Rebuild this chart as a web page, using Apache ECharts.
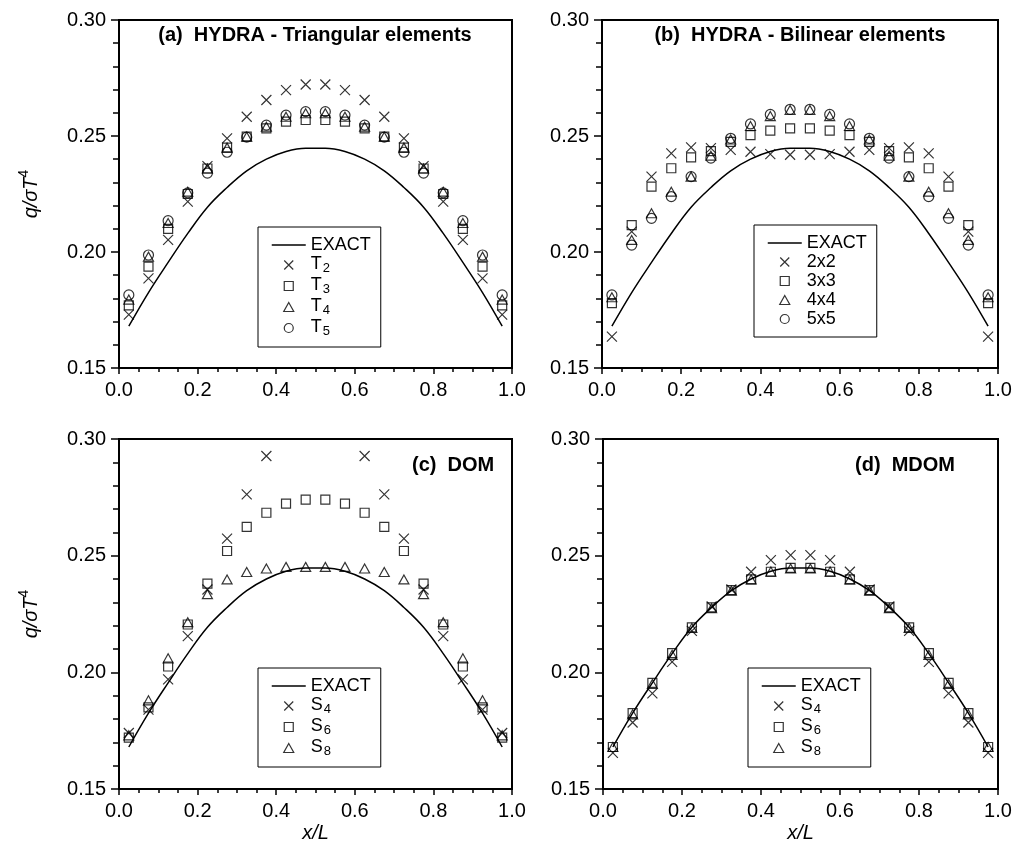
<!DOCTYPE html>
<html>
<head>
<meta charset="utf-8">
<script src="https://cdn.jsdelivr.net/npm/echarts@6/dist/echarts.min.js"></script>
<style>
html, body { margin: 0; padding: 0; background: #fff; }
#main { width: 1014px; height: 850px; }
</style>
</head>
<body>
<div id="main"></div>
<script>
// x/L positions of the 20 cell centres
var xs = [0.025, 0.075, 0.125, 0.175, 0.225, 0.275, 0.325, 0.375, 0.425, 0.475,
          0.525, 0.575, 0.625, 0.675, 0.725, 0.775, 0.825, 0.875, 0.925, 0.975];
var xTicks = [0.0, 0.2, 0.4, 0.6, 0.8, 1.0];
var yTicks = [0.15, 0.20, 0.25, 0.30];

var exact = [0.168, 0.1825, 0.1955, 0.208, 0.2193, 0.2278, 0.235, 0.240, 0.2433, 0.2447,
             0.2447, 0.2433, 0.240, 0.235, 0.2278, 0.2193, 0.208, 0.1955, 0.1825, 0.168];

// (a) HYDRA - triangular elements
var t2 = [0.173, 0.1886, 0.2052, 0.2217, 0.237, 0.249, 0.2583, 0.2655, 0.2698, 0.2722,
          0.2722, 0.2698, 0.2655, 0.2583, 0.249, 0.237, 0.2217, 0.2052, 0.1886, 0.173];
var t3 = [0.177, 0.1937, 0.210, 0.225, 0.236, 0.245, 0.2497, 0.2533, 0.2562, 0.2569,
          0.2569, 0.2562, 0.2533, 0.2497, 0.245, 0.236, 0.225, 0.210, 0.1937, 0.177];
var t4 = [0.1795, 0.198, 0.2125, 0.226, 0.236, 0.245, 0.2497, 0.254, 0.2583, 0.2598,
          0.2598, 0.2583, 0.254, 0.2497, 0.245, 0.236, 0.226, 0.2125, 0.198, 0.1795];
var t5 = [0.1815, 0.1987, 0.2135, 0.2255, 0.234, 0.243, 0.2495, 0.2547, 0.259, 0.2605,
          0.2605, 0.259, 0.2547, 0.2495, 0.243, 0.234, 0.2255, 0.2135, 0.1987, 0.1815];

// (b) HYDRA - bilinear elements
var b2 = [0.1635, 0.2088, 0.2325, 0.2425, 0.2451, 0.2448, 0.244, 0.2432, 0.2422, 0.2419,
          0.2419, 0.2422, 0.2432, 0.244, 0.2448, 0.2451, 0.2425, 0.2325, 0.2088, 0.1635];
var b3 = [0.178, 0.2116, 0.2282, 0.2361, 0.2408, 0.2435, 0.2475, 0.2504, 0.2523, 0.2533,
          0.2533, 0.2523, 0.2504, 0.2475, 0.2435, 0.2408, 0.2361, 0.2282, 0.2116, 0.178];
var b4 = [0.1805, 0.2052, 0.2167, 0.226, 0.2325, 0.2415, 0.2485, 0.2543, 0.2586, 0.2612,
          0.2612, 0.2586, 0.2543, 0.2485, 0.2415, 0.2325, 0.226, 0.2167, 0.2052, 0.1805];
var b5 = [0.1815, 0.203, 0.2145, 0.2239, 0.2325, 0.2405, 0.249, 0.2552, 0.2593, 0.2615,
          0.2615, 0.2593, 0.2552, 0.249, 0.2405, 0.2325, 0.2239, 0.2145, 0.203, 0.1815];

// (c) DOM  (middle S4 points lie above the plot)
var c4 = [0.174, 0.184, 0.197, 0.2155, 0.2355, 0.2573, 0.2763, 0.2927, null, null,
          null, null, 0.2927, 0.2763, 0.2573, 0.2355, 0.2155, 0.197, 0.184, 0.174];
var c6 = [0.172, 0.185, 0.2025, 0.2205, 0.238, 0.252, 0.2623, 0.2684, 0.2723, 0.274,
          0.274, 0.2723, 0.2684, 0.2623, 0.252, 0.238, 0.2205, 0.2025, 0.185, 0.172];
var c8 = [0.173, 0.188, 0.206, 0.2215, 0.2335, 0.2398, 0.243, 0.2445, 0.2452, 0.2452,
          0.2452, 0.2452, 0.2445, 0.243, 0.2398, 0.2335, 0.2215, 0.206, 0.188, 0.173];

// (d) MDOM
var d4 = [0.1655, 0.1785, 0.191, 0.2045, 0.2178, 0.2282, 0.2355, 0.2431, 0.2481, 0.2502,
          0.2502, 0.2481, 0.2431, 0.2355, 0.2282, 0.2178, 0.2045, 0.191, 0.1785, 0.1655];
var d6 = [0.168, 0.1825, 0.1955, 0.2082, 0.2193, 0.2278, 0.2352, 0.2398, 0.2431, 0.2448,
          0.2448, 0.2431, 0.2398, 0.2352, 0.2278, 0.2193, 0.2082, 0.1955, 0.1825, 0.168];
var d8 = [0.168, 0.182, 0.195, 0.2075, 0.219, 0.2275, 0.235, 0.2398, 0.2432, 0.2445,
          0.2445, 0.2432, 0.2398, 0.235, 0.2275, 0.219, 0.2075, 0.195, 0.182, 0.168];

var FONT = '"Liberation Sans", Arial, sans-serif';
// path symbols so the legend keeps their aspect ratio
var marks = {
  cross: { symbol: 'path://M0,0L10,10M10,0L0,10', size: 10 },
  square: { symbol: 'path://M0,0L10,0L10,10L0,10Z', size: 9 },
  tri: { symbol: 'path://M5,0L10,9L0,9Z', size: 10 },
  circle: { symbol: 'circle', size: 10 }
};

function pts(vals) {
  var out = [];
  vals.forEach(function (v, i) { if (v != null) out.push([xs[i], v]); });
  return out;
}

var grids = [
  { left: 119, top: 20, width: 393, height: 348 },
  { left: 602, top: 20, width: 396, height: 348 },
  { left: 119, top: 439, width: 393, height: 350 },
  { left: 603, top: 439, width: 395, height: 350 }
];

function xAxis(i, named) {
  return {
    type: 'value', gridIndex: i, min: xTicks[0], max: xTicks[xTicks.length - 1], interval: 0.2,
    name: named ? 'x/L' : '', nameLocation: 'middle', nameGap: 34, nameMoveOverlap: false,
    nameTextStyle: { color: '#000', fontSize: 20, fontStyle: 'italic', fontFamily: FONT },
    axisLine: { show: true, lineStyle: { color: '#000', width: 2 } },
    axisTick: { show: true, inside: false, length: 6, lineStyle: { color: '#000', width: 1.5 } },
    minorTick: { show: true, splitNumber: 4, length: 4, lineStyle: { color: '#000', width: 1.5 } },
    splitLine: { show: false },
    axisLabel: { color: '#000', fontSize: 20, fontFamily: FONT, margin: 12,
      showMinLabel: true, showMaxLabel: true,
      formatter: function (v) { return v.toFixed(1); } }
  };
}

function yAxis(i, named) {
  return {
    type: 'value', gridIndex: i, min: yTicks[0], max: yTicks[yTicks.length - 1], interval: 0.05,
    name: named ? '{i|q/σT}{p|4}' : '', nameLocation: 'middle', nameRotate: 90, nameGap: 78,
    nameMoveOverlap: false,
    nameTextStyle: {
      color: '#000', fontFamily: FONT,
      rich: {
        i: { fontSize: 20, fontStyle: 'italic', fontFamily: FONT, color: '#000', lineHeight: 24, verticalAlign: 'bottom' },
        p: { fontSize: 14, fontFamily: FONT, color: '#000', lineHeight: 14, verticalAlign: 'top' }
      }
    },
    axisLine: { show: true, lineStyle: { color: '#000', width: 2 } },
    axisTick: { show: true, inside: false, length: 8, lineStyle: { color: '#000', width: 1.5 } },
    minorTick: { show: true, splitNumber: 5, length: 6, lineStyle: { color: '#000', width: 1.5 } },
    splitLine: { show: false },
    axisLabel: { color: '#000', fontSize: 20, fontFamily: FONT, margin: 13,
      showMinLabel: true, showMaxLabel: true,
      formatter: function (v) { return v.toFixed(2); } }
  };
}

function exactSeries(i) {
  return {
    name: 'EXACT', type: 'line', xAxisIndex: i, yAxisIndex: i,
    data: pts(exact), smooth: 0.4, symbol: 'none', silent: true,
    itemStyle: { color: 'rgba(0,0,0,0)', borderWidth: 0 },
    lineStyle: { color: '#000', width: 1.5 }
  };
}

function scatter(i, name, vals, mark) {
  return {
    name: name, type: 'scatter', xAxisIndex: i, yAxisIndex: i,
    data: pts(vals), symbol: mark.symbol, symbolSize: mark.size, symbolKeepAspect: true,
    silent: true, emphasis: { disabled: true },
    itemStyle: { color: 'rgba(0,0,0,0)', borderColor: '#000', borderWidth: 1.2 }
  };
}

function legendFmt(name) {
  var m = name.match(/^([TS])(\d)$/);
  if (m) return '{b|' + m[1] + '}{s|' + m[2] + '}';
  return '{b|' + name + '}';
}

function legend(left, top, names) {
  var data = names.map(function (n) {
    return n === 'EXACT' ? { name: n, itemStyle: { opacity: 0 } } : { name: n };
  });
  return {
    orient: 'vertical', left: left, top: top, itemWidth: 34, itemHeight: 9, itemGap: 1,
    padding: [9, 10, 9, 13], borderColor: '#000', borderWidth: 1,
    selectedMode: false, symbolKeepAspect: true, data: data, formatter: legendFmt,
    itemStyle: { borderWidth: 1.2 }, lineStyle: { width: 1.5 },
    textStyle: {
      color: '#000', fontFamily: FONT, fontSize: 18,
      rich: {
        b: { fontSize: 18, fontFamily: FONT, color: '#000', lineHeight: 18, verticalAlign: 'top' },
        s: { fontSize: 13, fontFamily: FONT, color: '#000', verticalAlign: 'top', padding: [7, 0, 0, 1] }
      }
    }
  };
}

function title(text, left, top, align) {
  return {
    text: text, left: left, top: top, textAlign: align, padding: 0,
    textStyle: { color: '#000', fontSize: 20, fontWeight: 'bold', fontFamily: FONT }
  };
}

var chart = echarts.init(document.getElementById('main'));
chart.setOption({
  animation: false,
  backgroundColor: '#fff',
  title: [
    title('(a)  HYDRA - Triangular elements', 315, 25, 'center'),
    title('(b)  HYDRA - Bilinear elements', 800, 25, 'center'),
    title('(c)  DOM', 412, 455, 'left'),
    title('(d)  MDOM', 855, 455, 'left')
  ],
  grid: grids.map(function (g) {
    return Object.assign({ show: true, borderColor: '#000', borderWidth: 2,
      backgroundColor: 'transparent', containLabel: false, outerBoundsMode: 'none' }, g);
  }),
  xAxis: [xAxis(0, false), xAxis(1, false), xAxis(2, true), xAxis(3, true)],
  yAxis: [yAxis(0, true), yAxis(1, false), yAxis(2, true), yAxis(3, false)],
  legend: [
    legend(258, 227, ['EXACT', 'T2', 'T3', 'T4', 'T5']),
    legend(754, 225, ['EXACT', '2x2', '3x3', '4x4', '5x5']),
    legend(258, 668, ['EXACT', 'S4', 'S6', 'S8']),
    legend(748, 668, ['EXACT', 'S4', 'S6', 'S8'])
  ],
  series: [
    exactSeries(0),
    scatter(0, 'T2', t2, marks.cross),
    scatter(0, 'T3', t3, marks.square),
    scatter(0, 'T4', t4, marks.tri),
    scatter(0, 'T5', t5, marks.circle),
    exactSeries(1),
    scatter(1, '2x2', b2, marks.cross),
    scatter(1, '3x3', b3, marks.square),
    scatter(1, '4x4', b4, marks.tri),
    scatter(1, '5x5', b5, marks.circle),
    exactSeries(2),
    scatter(2, 'S4', c4, marks.cross),
    scatter(2, 'S6', c6, marks.square),
    scatter(2, 'S8', c8, marks.tri),
    exactSeries(3),
    scatter(3, 'S4', d4, marks.cross),
    scatter(3, 'S6', d6, marks.square),
    scatter(3, 'S8', d8, marks.tri)
  ]
});
</script>
</body>
</html>
